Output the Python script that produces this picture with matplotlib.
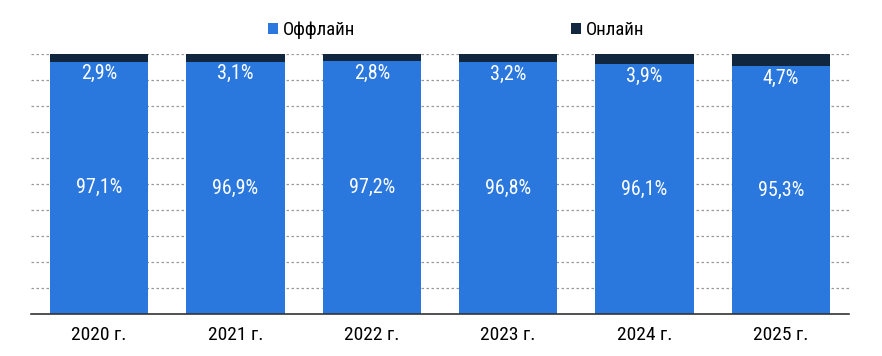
import numpy as np
import matplotlib.pyplot as plt

years = ["2020 г.", "2021 г.", "2022 г.", "2023 г.", "2024 г.", "2025 г."]
offline = [97.1, 96.9, 97.2, 96.8, 96.1, 95.3]
online = [2.9, 3.1, 2.8, 3.2, 3.9, 4.7]

plt.rcParams['font.family'] = ['Roboto Condensed', 'PT Sans Narrow', 'DejaVu Sans']

BLUE = "#2a77de"
NAVY = "#11263f"


def fmt(v):
    return f"{v:.1f}%".replace(".", ",")


def main():
    fig = plt.figure(figsize=(8.82, 3.56), dpi=100)
    ax = fig.add_axes([31 / 882, 1 - 314 / 356, 818 / 882, 260 / 356])

    x = np.arange(len(years))
    b1 = ax.bar(x, offline, width=0.72, color=BLUE, label="Оффлайн", zorder=2)
    b2 = ax.bar(x, online, bottom=offline, width=0.72, color=NAVY, label="Онлайн", zorder=2)

    for i in range(len(years)):
        ax.text(x[i], offline[i] / 2, fmt(offline[i]), ha="center", va="center",
                color="white", fontsize=14.5)
        ax.annotate(fmt(online[i]), (x[i], offline[i]), xytext=(0, -8.5),
                    textcoords="offset points", ha="center", va="center",
                    color="white", fontsize=14.5)

    ax.set_xlim(-0.5, len(years) - 0.5)
    ax.set_ylim(0, 100)
    ax.set_yticks(np.arange(10, 101, 10))
    ax.yaxis.grid(True, linestyle=(0, (2, 2)), color="#999999", linewidth=0.9, zorder=0)
    ax.tick_params(axis="y", left=False, labelleft=False)
    ax.tick_params(axis="x", length=0, labelsize=14, pad=9)
    ax.set_xticks(x)
    ax.set_xticklabels(years)
    for s in ["top", "right", "left"]:
        ax.spines[s].set_visible(False)
    ax.spines["bottom"].set_color("#333333")
    ax.spines["bottom"].set_linewidth(1.2)
    ax.spines["bottom"].set_zorder(3)

    fig.legend(handles=[b1, b2], loc="center", bbox_to_anchor=(456 / 882, 1 - 30 / 356),
               ncol=2, frameon=False, fontsize=13.5, handlelength=0.55, handleheight=0.55,
               handletextpad=0.25, columnspacing=11.5)

    plt.savefig("out.png", dpi=100)


if __name__ == "__main__":
    main()
